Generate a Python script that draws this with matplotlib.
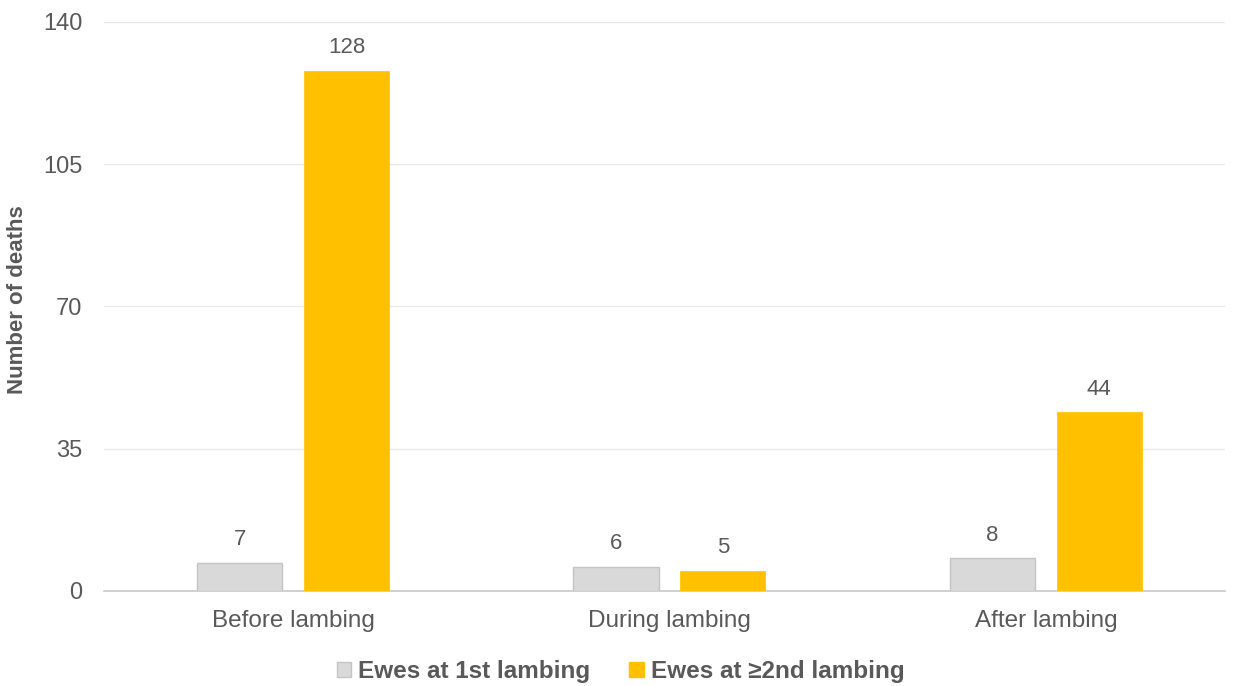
import numpy as np
import matplotlib.pyplot as plt
from matplotlib.patches import Patch

plt.rcParams['font.family'] = ['Liberation Sans', 'DejaVu Sans']

# data
categories = ['Before lambing', 'During lambing', 'After lambing']
first_lambing = [7, 6, 8]
second_lambing = [128, 5, 44]
series_names = ['Ewes at 1st lambing', 'Ewes at \u22652nd lambing']
yticks = [0, 35, 70, 105, 140]

text_col = '#595959'
gray = '#D9D9D9'
yellow = '#FFC000'

fig = plt.figure(figsize=(12.39, 6.86), dpi=100)
ax = fig.add_axes([0.084, 0.1385, 0.905, 0.8295])

x = np.arange(len(categories))
w = 0.226
off = 0.142
b1 = ax.bar(x - off, first_lambing, w, color=gray, edgecolor='#C4C4C4', linewidth=1, zorder=3)
b2 = ax.bar(x + off, second_lambing, w, color=yellow, edgecolor=yellow, linewidth=0.5, zorder=3)

# value labels above each bar
for bars, vals in [(b1, first_lambing), (b2, second_lambing)]:
    for r, v in zip(bars, vals):
        ax.annotate(str(v), (r.get_x() + r.get_width() / 2, v), xytext=(0, 9),
                    textcoords='offset points', ha='center', va='bottom',
                    fontsize=16, color=text_col)

ax.set_xlim(-0.502, 2.477)
ax.set_ylim(0, 140)
ax.set_yticks(yticks)
ax.set_xticks(x)
ax.set_xticklabels(categories, fontsize=17.5)
ax.tick_params(axis='both', length=0, colors=text_col)
ax.tick_params(axis='y', labelsize=17, pad=15.5)
ax.tick_params(axis='x', pad=14)
ax.grid(axis='y', color='#E8E8E8', linewidth=1, zorder=0)
for s in ['top', 'right', 'left']:
    ax.spines[s].set_visible(False)
ax.spines['bottom'].set_color('#C8C8C8')
ax.spines['bottom'].set_linewidth(1.2)

fig.text(18 / 1239, 1 - 300 / 686, 'Number of deaths', rotation=90, ha='center', va='center',
         fontsize=16, fontweight='bold', color=text_col)

handles = [Patch(facecolor=gray, edgecolor='#C4C4C4'), Patch(facecolor=yellow, edgecolor=yellow)]
leg = fig.legend(handles, series_names, loc='center', bbox_to_anchor=(0.501, 0.021), ncol=2,
                 frameon=False, handlelength=0.6, handleheight=0.6, handletextpad=0.3,
                 columnspacing=1.6, prop={'size': 17.5, 'weight': 'bold'})
for t in leg.get_texts():
    t.set_color(text_col)

fig.savefig('out.png', dpi=100)
